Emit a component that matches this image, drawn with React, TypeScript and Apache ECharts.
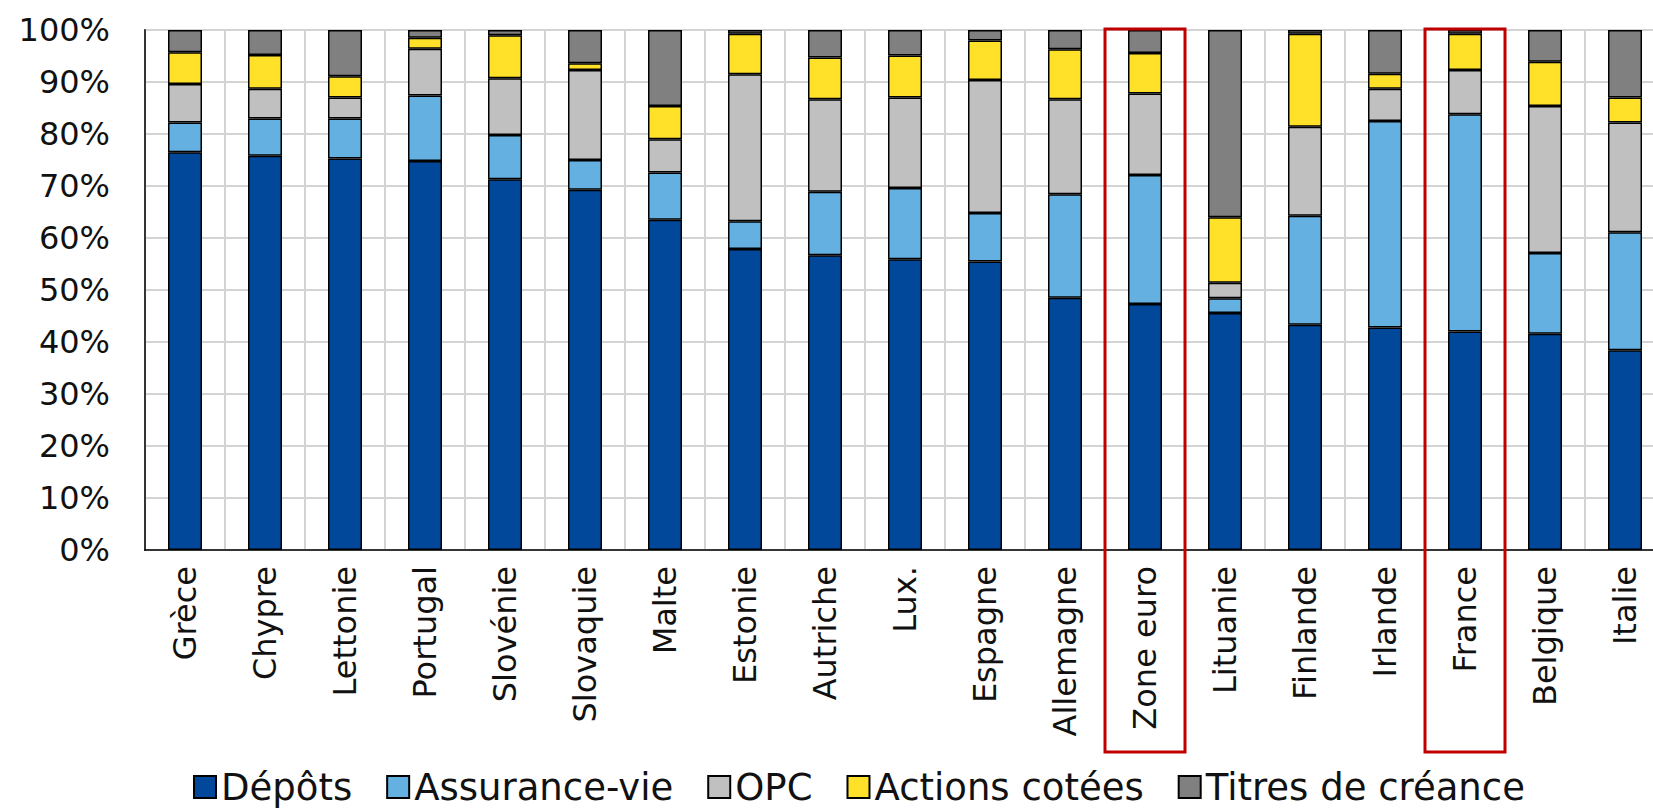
import React, { useEffect, useRef } from "react";
import * as echarts from "echarts";

// Répartition du patrimoine financier des ménages par pays (en % du total)
const categories = [
  "Grèce", "Chypre", "Lettonie", "Portugal", "Slovénie", "Slovaquie", "Malte",
  "Estonie", "Autriche", "Lux.", "Espagne", "Allemagne", "Zone euro", "Lituanie",
  "Finlande", "Irlande", "France", "Belgique", "Italie",
];

const depots = [76.5, 75.8, 75.3, 74.8, 71.3, 69.3, 63.5, 57.9, 56.7, 55.9, 55.5, 48.5, 47.3, 45.6, 43.3, 42.8, 42.0, 41.6, 38.4];
const assuranceVie = [5.7, 7.2, 7.7, 12.6, 8.5, 5.7, 9.1, 5.3, 12.2, 13.7, 9.3, 19.9, 24.8, 2.8, 21.0, 39.7, 41.8, 15.5, 22.7];
const opc = [7.4, 5.7, 4.0, 9.0, 10.9, 17.3, 6.4, 28.3, 17.8, 17.4, 25.6, 18.3, 15.7, 3.0, 17.1, 6.2, 8.5, 28.3, 21.1];
const actionsCotees = [6.1, 6.5, 4.1, 2.1, 8.3, 1.3, 6.4, 7.8, 8.0, 8.1, 7.6, 9.6, 7.8, 12.6, 17.9, 2.9, 7.0, 8.5, 4.8];
const titresCreance = [4.3, 4.8, 8.9, 1.5, 1.0, 6.4, 14.6, 0.7, 5.3, 4.9, 2.0, 3.7, 4.4, 36.0, 0.7, 8.4, 0.7, 6.1, 13.0];

const yTicks = [0, 10, 20, 30, 40, 50, 60, 70, 80, 90, 100];
const highlighted = ["Zone euro", "France"];

const seriesDefs = [
  { name: "Dépôts", data: depots, color: "#02489A" },
  { name: "Assurance-vie", data: assuranceVie, color: "#64B0E0" },
  { name: "OPC", data: opc, color: "#C0C0C0" },
  { name: "Actions cotées", data: actionsCotees, color: "#FFE12A" },
  { name: "Titres de créance", data: titresCreance, color: "#808080" },
];

const FONT = "DejaVu Sans";

export default function App() {
  const ref = useRef<HTMLDivElement>(null);

  useEffect(() => {
    if (!ref.current) return;
    const chart = echarts.init(ref.current, null, { renderer: "svg" });

    chart.setOption({
      animation: false,
      backgroundColor: "#ffffff",
      grid: {
        left: 145,
        top: 30,
        right: 0,
        bottom: 258,
        show: true,
        borderColor: "#000",
        borderWidth: 1.5,
        backgroundColor: "transparent",
      },
      legend: {
        left: 188,
        top: 763,
        icon: "rect",
        itemWidth: 22,
        itemHeight: 22,
        itemGap: 34,
        textStyle: { fontFamily: FONT, fontSize: 37, color: "#111", lineHeight: 38 },
        data: seriesDefs.map((s) => s.name),
      },
      xAxis: {
        type: "category",
        data: categories,
        boundaryGap: true,
        axisLine: { lineStyle: { color: "#000", width: 1.5 } },
        axisTick: { show: false },
        splitLine: { show: true, interval: 0, lineStyle: { color: "#D3D3D3", width: 2 } },
        axisLabel: {
          interval: 0,
          rotate: 90,
          margin: 16,
          fontFamily: FONT,
          fontSize: 32,
          color: "#111",
        },
      },
      yAxis: {
        type: "value",
        min: yTicks[0],
        max: yTicks[yTicks.length - 1],
        interval: 10,
        axisLine: { show: true, lineStyle: { color: "#000", width: 1.5 } },
        axisTick: { show: false },
        splitLine: { lineStyle: { color: "#D3D3D3", width: 2 } },
        axisLabel: {
          formatter: "{value}%",
          margin: 35,
          fontFamily: FONT,
          fontSize: 32,
          color: "#111",
        },
      },
      series: seriesDefs.map((s) => ({
        name: s.name,
        type: "bar",
        stack: "total",
        barWidth: 34,
        data: s.data,
        itemStyle: { color: s.color, borderColor: "#000", borderWidth: 1.5 },
      })),
    });

    // Red frames around highlighted categories, positioned from the axis scale
    const p0 = chart.convertToPixel({ gridIndex: 0 }, [0, 100]) as number[];
    const p1 = chart.convertToPixel({ gridIndex: 0 }, [1, 0]) as number[];
    const band = p1[0] - p0[0];
    const yTop = p0[1] - 1;
    const yBottom = p1[1] + 202;
    chart.setOption({
      graphic: highlighted.map((name) => {
        const idx = categories.indexOf(name);
        const c = chart.convertToPixel({ gridIndex: 0 }, [idx, 0]) as number[];
        return {
          type: "rect",
          z: 100,
          shape: { x: c[0] - band / 2, y: yTop, width: band, height: yBottom - yTop },
          style: { fill: "none", stroke: "#C00000", lineWidth: 3 },
        };
      }),
    });

    return () => chart.dispose();
  }, []);

  return (
    <div
      ref={ref}
      style={{ position: "fixed", left: 0, top: 0, width: 1665, height: 808, background: "#fff" }}
    />
  );
}
